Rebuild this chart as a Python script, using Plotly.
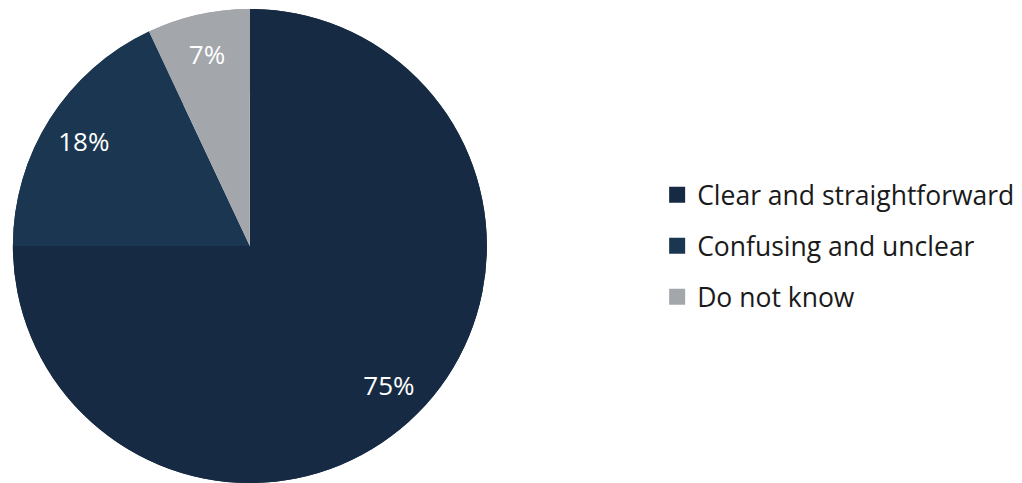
import plotly.graph_objects as go

categories = ["Clear and straightforward", "Confusing and unclear", "Do not know"]
values = [75, 18, 7]
colors = ["#162b43", "#1b3651", "#a3a6ab"]

fig = go.Figure()
# full pie (fill)
fig.add_trace(go.Pie(
    labels=categories, values=values, sort=False, direction="clockwise", rotation=0,
    marker=dict(colors=colors, line=dict(width=0)),
    textinfo="none", domain=dict(x=[0, 0.489], y=[0, 1]), showlegend=False,
    hoverinfo="label+percent",
))
# ring overlay carrying the labels near the rim
fig.add_trace(go.Pie(
    labels=categories, values=values, sort=False, direction="clockwise", rotation=0,
    hole=0.66,
    marker=dict(colors=colors, line=dict(width=0)),
    texttemplate="%{value}%", textposition="inside", insidetextorientation="horizontal",
    textfont=dict(family="Open Sans", size=26, color="white"),
    domain=dict(x=[0, 0.489], y=[0, 1]), showlegend=False, hoverinfo="label+percent",
))
for i, (lab, col) in enumerate(zip(categories, colors)):
    fig.add_trace(go.Scatter(x=[None], y=[None], mode="markers", name=lab,
                             legendgroup=f"g{i}",
                             marker=dict(symbol="square", size=17, color=col)))

fig.update_layout(
    width=1022, height=483, margin=dict(l=0, r=0, t=9, b=0),
    paper_bgcolor="white", plot_bgcolor="white",
    xaxis=dict(visible=False), yaxis=dict(visible=False),
    legend=dict(x=0.643, y=0.50, xanchor="left", yanchor="middle",
                font=dict(family="Open Sans", size=26.5, color="#1a1a1a"),
                tracegroupgap=13.5, bgcolor="rgba(0,0,0,0)"),
    font=dict(family="Open Sans"),
)
fig.write_html("out.html")
